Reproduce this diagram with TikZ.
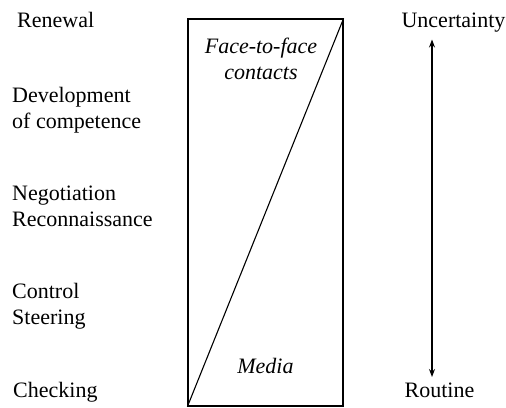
\documentclass[tikz,border=0pt]{standalone}
\usepackage{fontspec}
\setmainfont{Liberation Serif}
\usetikzlibrary{arrows.meta}
\begin{document}
\begin{tikzpicture}[x=1pt,y=-1pt,
  lbl/.style={font=\fontsize{22}{26}\selectfont, inner sep=0pt, align=left, anchor=west},
  lbls/.style={font=\fontsize{22}{26}\selectfont, inner sep=0pt, anchor=base west},
  ilbl/.style={font=\fontsize{22}{26}\selectfont\itshape, inner sep=0pt, align=center},
  rlbl/.style={font=\fontsize{22}{26}\selectfont, inner sep=0pt, anchor=base},
  frame/.style={draw=black, line width=1.2pt, minimum width=155pt, minimum height=387pt, inner sep=0pt},
  diag/.style={draw=black, line width=1.1pt},
  scale arrow/.style={draw=black, line width=1.1pt, {Stealth[length=8pt,width=6pt]}-{Stealth[length=8pt,width=6pt]}}
]
\useasboundingbox (0,0) rectangle (506,407);
\node[frame] (box) at (265.5,212.5) {};
\draw[diag] (box.south west) -- (box.north east);
\node[ilbl] (ftf) at (261,58.7) {Face-to-face\\contacts};
\node[ilbl, anchor=base] (media) at (265.5,373) {Media};
\node[lbls] (renewal) at (17,27) {Renewal};
\node[lbl] (dev) at (12,109.9) {Development\\of competence};
\node[lbl] (neg) at (12,206.6) {Negotiation\\Reconnaissance};
\node[lbl] (ctrl) at (12,305.9) {Control\\Steering};
\node[lbls] (check) at (13,397) {Checking};
\node[rlbl] (unc) at (453.5,27) {Uncertainty};
\node[rlbl] (rout) at (439.5,397) {Routine};
\coordinate (atop) at (432,39.5);
\coordinate (abot) at (432,377);
\draw[scale arrow] (atop) -- (abot);
\end{tikzpicture}
\end{document}
